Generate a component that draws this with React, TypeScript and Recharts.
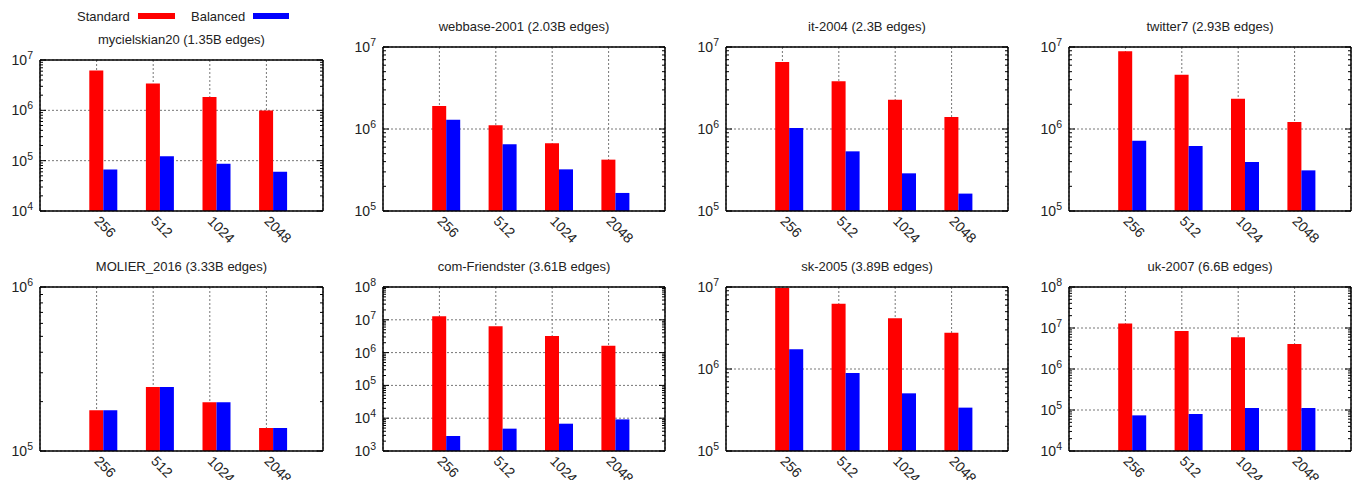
import React from 'react';
import { Bar, BarChart, CartesianGrid, XAxis, YAxis } from 'recharts';

const procs = ['256', '512', '1024', '2048'];

const mycielskianStd = [6.2e6, 3.4e6, 1.83e6, 9.9e5];
const mycielskianBal = [6.7e4, 1.23e5, 8.7e4, 6.0e4];
const webbaseStd = [1.91e6, 1.11e6, 6.7e5, 4.23e5];
const webbaseBal = [1.3e6, 6.5e5, 3.22e5, 1.66e5];
const it2004Std = [6.56e6, 3.81e6, 2.28e6, 1.4e6];
const it2004Bal = [1.03e6, 5.34e5, 2.88e5, 1.63e5];
const twitterStd = [8.85e6, 4.6e6, 2.34e6, 1.22e6];
const twitterBal = [7.2e5, 6.2e5, 3.96e5, 3.13e5];
const molierStd = [1.77e5, 2.46e5, 1.98e5, 1.38e5];
const molierBal = [1.77e5, 2.46e5, 1.98e5, 1.38e5];
const friendsterStd = [1.28e7, 6.32e6, 3.2e6, 1.63e6];
const friendsterBal = [2.87e3, 4.8e3, 6.8e3, 9.2e3];
const sk2005Std = [9.7e6, 6.26e6, 4.15e6, 2.77e6];
const sk2005Bal = [1.74e6, 8.94e5, 5.05e5, 3.38e5];
const uk2007Std = [1.28e7, 8.45e6, 5.92e6, 4.07e6];
const uk2007Bal = [7.4e4, 8.0e4, 1.12e5, 1.12e5];

// decade range of each y axis, as powers of ten
const graphs = [
    { title: 'mycielskian20 (1.35B edges)', std: mycielskianStd, bal: mycielskianBal, exp: [4, 7] },
    { title: 'webbase-2001 (2.03B edges)', std: webbaseStd, bal: webbaseBal, exp: [5, 7] },
    { title: 'it-2004 (2.3B edges)', std: it2004Std, bal: it2004Bal, exp: [5, 7] },
    { title: 'twitter7 (2.93B edges)', std: twitterStd, bal: twitterBal, exp: [5, 7] },
    { title: 'MOLIER_2016 (3.33B edges)', std: molierStd, bal: molierBal, exp: [5, 6] },
    { title: 'com-Friendster (3.61B edges)', std: friendsterStd, bal: friendsterBal, exp: [3, 8] },
    { title: 'sk-2005 (3.89B edges)', std: sk2005Std, bal: sk2005Bal, exp: [5, 7] },
    { title: 'uk-2007 (6.6B edges)', std: uk2007Std, bal: uk2007Bal, exp: [4, 8] },
];

// plot boxes on the page: left, top, right, bottom
const boxes = [
    [40, 60, 323, 211],
    [383, 47, 665, 211],
    [726, 47, 1008, 211],
    [1069, 47, 1351, 211],
    [40, 287, 323, 451],
    [383, 287, 665, 451],
    [726, 287, 1008, 451],
    [1069, 287, 1351, 451],
];

const FONT = '"Liberation Sans", Arial, Helvetica, sans-serif';
const AXIS_W = 40;
const TOP = 11;
const RIGHT = 6;
const BOTTOM = 40;

function Panel({ g, box }: { g: any; box: number[] }) {
    const [l, t, r, b] = box;
    const plotW = r - l;
    const plotH = b - t;
    const width = AXIS_W + plotW + 1 + RIGHT;
    const height = TOP + plotH + BOTTOM;
    const data = procs.map((p, i) => ({ p, Standard: g.std[i], Balanced: g.bal[i] }));
    const domain = [10 ** g.exp[0], 10 ** g.exp[1]];

    const majors: number[] = [];
    const ticks: number[] = [];
    for (let e = g.exp[0]; e <= g.exp[1]; e++) {
        majors.push(10 ** e);
        ticks.push(10 ** e);
        if (e < g.exp[1]) {
            for (let k = 2; k <= 9; k++) ticks.push(k * 10 ** e);
        }
    }
    const pad = plotW / 10;

    const yTick = (props: any) => {
        const { y, payload } = props;
        const lg = Math.log10(payload.value);
        const e = Math.round(lg);
        const major = Math.abs(lg - e) < 1e-6;
        const len = major ? 6 : 3;
        return (
            <g>
                <line x1={AXIS_W} x2={AXIS_W + len} y1={y} y2={y} stroke='#000' />
                <line x1={AXIS_W + plotW - len} x2={AXIS_W + plotW} y1={y} y2={y} stroke='#000' />
                {major && (
                    <text x={AXIS_W - 7} y={y + 5} textAnchor='end' fontSize={14} fill='#222' fontFamily={FONT}>
                        10
                        <tspan dy={-6} fontSize={10.5}>
                            {e}
                        </tspan>
                    </text>
                )}
            </g>
        );
    };

    const xTick = (props: any) => {
        const { x, payload } = props;
        const ty = TOP + plotH + 11;
        const tx = x - 3;
        return (
            <text
                x={tx}
                y={ty}
                transform={`rotate(45 ${tx} ${ty})`}
                textAnchor='start'
                fontSize={14}
                fill='#222'
                fontFamily={FONT}
            >
                {payload.value}
            </text>
        );
    };

    return (
        <>
            <div
                style={{
                    position: 'absolute',
                    left: l,
                    top: t - 16.5 - 12,
                    width: plotW,
                    textAlign: 'center',
                    fontSize: 13,
                    lineHeight: '15px',
                    fontFamily: FONT,
                    color: '#222',
                    whiteSpace: 'nowrap',
                }}
            >
                {g.title}
            </div>
            <div style={{ position: 'absolute', left: l - AXIS_W, top: t - TOP }}>
                <BarChart
                    width={width}
                    height={height}
                    data={data}
                    margin={{ top: TOP - 1, right: RIGHT, left: 0, bottom: 0 }}
                    barGap={0}
                    barSize={14}
                >
                    <CartesianGrid stroke='#777' strokeDasharray='2 2' horizontalValues={majors} />
                    <XAxis
                        dataKey='p'
                        type='category'
                        padding={{ left: pad, right: pad }}
                        interval={0}
                        tickLine={false}
                        axisLine={{ stroke: '#000', strokeWidth: 1.5 }}
                        tick={xTick}
                        height={BOTTOM}
                    />
                    <XAxis
                        xAxisId='bars'
                        dataKey='p'
                        type='category'
                        padding={{ left: pad + 7, right: pad - 7 }}
                        hide
                    />
                    <XAxis
                        xAxisId='top'
                        orientation='top'
                        dataKey='p'
                        type='category'
                        tick={false}
                        tickLine={false}
                        axisLine={{ stroke: '#000', strokeWidth: 1.5 }}
                        height={1}
                    />
                    <YAxis
                        scale='log'
                        type='number'
                        domain={domain}
                        ticks={ticks}
                        interval={0}
                        allowDataOverflow
                        width={AXIS_W}
                        tickLine={false}
                        axisLine={{ stroke: '#000', strokeWidth: 1.5 }}
                        tick={yTick}
                    />
                    <YAxis
                        yAxisId='r'
                        orientation='right'
                        scale='log'
                        type='number'
                        domain={domain}
                        allowDataOverflow
                        width={1}
                        tick={false}
                        tickLine={false}
                        axisLine={{ stroke: '#000', strokeWidth: 1.5 }}
                    />
                    <Bar dataKey='Standard' xAxisId='bars' fill='#ff0000' isAnimationActive={false} />
                    <Bar dataKey='Balanced' xAxisId='bars' fill='#0000ff' isAnimationActive={false} />
                </BarChart>
            </div>
        </>
    );
}

function App() {
    const legendText = {
        position: 'absolute' as const,
        top: 20.5 - 12,
        fontSize: 13,
        lineHeight: '15px',
        fontFamily: FONT,
        color: '#222',
    };
    return (
        <div
            style={{
                position: 'absolute',
                left: 0,
                top: 0,
                width: 1358,
                height: 480,
                background: '#fff',
                overflow: 'hidden',
            }}
        >
            <div style={{ ...legendText, left: 77 }}>Standard</div>
            <div style={{ position: 'absolute', left: 138, top: 13, width: 37, height: 6, background: '#ff0000' }} />
            <div style={{ ...legendText, left: 191 }}>Balanced</div>
            <div style={{ position: 'absolute', left: 253, top: 13, width: 36, height: 6, background: '#0000ff' }} />
            {graphs.map((g, i) => (
                <Panel key={g.title} g={g} box={boxes[i]} />
            ))}
        </div>
    );
}

export default App;
